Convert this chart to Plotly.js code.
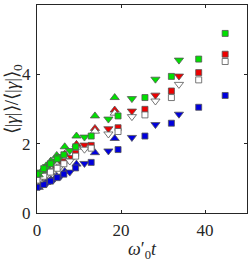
<!DOCTYPE html>
<html><head><meta charset="utf-8">
<script src="https://cdn.plot.ly/plotly-3.0.1.min.js"></script>
<style>html,body{margin:0;padding:0;background:#fff}#c{width:248px;height:262px}</style>
</head><body><div id="c"></div>
<script>
// Times
const tSq = [0, 1.6, 3.2, 4.8, 6.4, 9.2, 12.9, 19.3, 25.7, 32.0, 38.5, 44.8];
const tDn = [0.8, 2.4, 4.0, 5.6, 7.8, 11.3, 17.0, 22.6, 28.2, 33.8];
const tUp = [0.4, 1.2, 2.2, 3.3, 4.7, 6.6, 9.4, 13.8, 18.5];

// Green
const gSq = [1.12, 1.28, 1.42, 1.56, 1.68, 1.91, 2.22, 2.80, 3.33, 3.94, 4.44, 5.18];
const gDn = [1.18, 1.34, 1.50, 1.63, 1.80, 2.19, 2.71, 3.30, 3.86, 4.41];
const gUp = [1.10, 1.22, 1.36, 1.50, 1.66, 1.91, 2.22, 2.80, 3.33];
// Red
const rSq = [1.00, 1.13, 1.25, 1.37, 1.50, 1.72, 1.95, 2.46, 2.99, 3.52, 4.05, 4.58];
const rDn = [1.06, 1.19, 1.31, 1.44, 1.60, 1.96, 2.43, 2.94, 3.40, 3.95];
const rUp = [1.00, 1.10, 1.22, 1.34, 1.48, 1.70, 1.98, 2.44, 2.97];
// White (open)
const wSq = [0.95, 1.06, 1.18, 1.29, 1.42, 1.64, 1.87, 2.35, 2.83, 3.33, 3.84, 4.37];
const wDn = [1.00, 1.12, 1.23, 1.35, 1.50, 1.84, 2.28, 2.78, 3.23, 3.71];
const wUp = [0.95, 1.04, 1.16, 1.27, 1.40, 1.62, 1.90, 2.36, 2.88];
// Blue
const bSq = [0.74, 0.82, 0.92, 1.02, 1.12, 1.30, 1.46, 1.83, 2.22, 2.59, 3.05, 3.39];
const bDn = [0.78, 0.87, 0.97, 1.06, 1.18, 1.43, 1.79, 2.18, 2.55, 2.85];
const bUp = [0.74, 0.80, 0.88, 0.96, 1.06, 1.20, 1.41, 1.74, 2.15];

const xTitle = '<i>ω</i>′<sub>0</sub><i>t</i>';
const yTitle = '⟨|<i>γ</i>|⟩/⟨|<i>γ</i>|⟩<sub>0</sub>';

function tr(x, y, sym, fill, size){
  return {x:x, y:y, type:'scatter', mode:'markers', showlegend:false, hoverinfo:'skip',
    marker:{symbol:sym, color:fill, size:size, line:{color:'#555', width:0.8}}};
}
const G='#00e000', R='#ee0000', W='#ffffff', B='#0000dd';
const data = [
  tr(tUp, bUp, 'triangle-up', B, 8), tr(tDn, bDn, 'triangle-down', B, 8), tr(tSq, bSq, 'square', B, 6),
  tr(tUp, rUp, 'triangle-up', R, 8), tr(tDn, rDn, 'triangle-down', R, 8), tr(tSq, rSq, 'square', R, 6),
  tr(tUp, wUp, 'triangle-up', W, 8), tr(tDn, wDn, 'triangle-down', W, 8), tr(tSq, wSq, 'square', W, 6),
  tr(tUp, gUp, 'triangle-up', G, 8), tr(tDn, gDn, 'triangle-down', G, 8), tr(tSq, gSq, 'square', G, 6)
];
const F = 'Liberation Serif, serif';
const ax = {showgrid:false, zeroline:false, showline:true, linecolor:'#262626', linewidth:1,
  mirror:'ticks', ticks:'inside', ticklen:3, tickcolor:'#262626',
  tickfont:{family:F, size:17, color:'#262626'}};
const layout = {
  width:248, height:262, margin:{l:37, r:1, t:5, b:49},
  paper_bgcolor:'#fff', plot_bgcolor:'#fff',
  xaxis:Object.assign({}, ax, {range:[0,50], tickvals:[0,20,40], ticklabelstandoff:2,
    title:{text:xTitle, font:{family:F, size:18, color:'#262626'}, standoff:0}}),
  yaxis:Object.assign({}, ax, {range:[0,6], tickvals:[0,2,4,6], ticklabelstandoff:2}),
  annotations:[{text:yTitle, xref:'paper', yref:'paper', x:-0.115, y:0.55,
    xanchor:'center', yanchor:'middle', textangle:-90, showarrow:false,
    font:{family:F, size:19, color:'#262626'}}]
};
Plotly.newPlot('c', data, layout, {staticPlot:true, displayModeBar:false});
</script></body></html>
